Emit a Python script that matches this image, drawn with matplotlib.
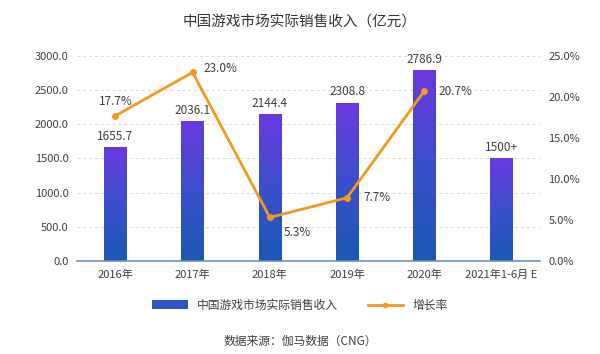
import matplotlib as mpl

mpl.use("Agg")

import matplotlib.pyplot as plt
import numpy as np
from matplotlib.colors import LinearSegmentedColormap
from matplotlib.lines import Line2D
from matplotlib.patches import Patch

plt.rcParams["font.family"] = ["Noto Sans CJK SC", "DejaVu Sans"]

categories = ["2016年", "2017年", "2018年", "2019年", "2020年", "2021年1-6月 E"]
revenue = [1655.7, 2036.1, 2144.4, 2308.8, 2786.9, 1500.0]
revenue_labels = ["1655.7", "2036.1", "2144.4", "2308.8", "2786.9", "1500+"]
growth = [17.7, 23.0, 5.3, 7.7, 20.7]
growth_labels = ["17.7%", "23.0%", "5.3%", "7.7%", "20.7%"]

TEXT = "#404040"
ORANGE = "#F39A1E"
bar_cmap = LinearSegmentedColormap.from_list("bar", ["#1A58B4", "#3A4FCB", "#6A38DE"])

fig = plt.figure(figsize=(6.0, 3.54), dpi=100)
ax = fig.add_axes([0.128, 0.263, 0.772, 0.579])
ax2 = ax.twinx()

x = np.arange(len(categories))
width = 0.29

# gradient bars: each bar blue at the base, purple at the top
grad = np.linspace(0, 1, 256).reshape(-1, 1)
for xi, v in zip(x, revenue):
    ax.imshow(grad, extent=[xi - width / 2, xi + width / 2, 0, v], origin="lower",
              aspect="auto", cmap=bar_cmap, vmin=0, vmax=1, zorder=2)
ax.set_xlim(-0.5, len(categories) - 0.5)
ax.set_ylim(0, 3000)

for xi, v, lab in zip(x, revenue, revenue_labels):
    ax.text(xi, v + 70, lab, ha="center", va="bottom", fontsize=8.5, color=TEXT, zorder=5)

ax.set_yticks(np.arange(0, 3001, 500))
ax.set_yticklabels([f"{v:.1f}" for v in np.arange(0, 3001, 500)])
ax.yaxis.grid(True, linestyle=(0, (3, 3)), color="#D9D9D9", linewidth=0.7)
ax.set_axisbelow(True)
ax.set_xticks(x)
ax.set_xticklabels(categories)
for s in ["top", "right", "left"]:
    ax.spines[s].set_visible(False)
ax.spines["bottom"].set_color("#6A93B8")
ax.spines["bottom"].set_linewidth(1.2)
ax.tick_params(axis="both", length=0, labelsize=8, colors=TEXT, pad=6)

ax2.set_ylim(0, 25)
ax2.set_yticks(np.arange(0, 26, 5))
ax2.set_yticklabels([f"{v:.1f}%" for v in np.arange(0, 26, 5)])
ax2.tick_params(axis="y", length=0, labelsize=8, colors=TEXT, pad=6)
for s in ax2.spines.values():
    s.set_visible(False)
ax2.plot(x[:len(growth)], growth, color=ORANGE, linewidth=2, marker="o", markersize=4, zorder=4)

offsets = [(0, 10, "center"), (8, 3, "left"), (10, -11, "left"), (12, 0, "left"), (10, 0, "left")]
for xi, g, lab, (dx, dy, ha) in zip(x, growth, growth_labels, offsets):
    ax2.annotate(lab, (xi, g), xytext=(dx, dy), textcoords="offset points",
                 ha=ha, va="center", fontsize=8.5, color=TEXT)

fig.text(0.5, 0.937, "中国游戏市场实际销售收入（亿元）", ha="center", va="center",
         fontsize=10.5, color="#333333")

handles = [Patch(facecolor="#2F55C6"),
           Line2D([0], [0], color=ORANGE, linewidth=2, marker="o", markersize=3)]
fig.legend(handles, ["中国游戏市场实际销售收入", "增长率"], loc="center",
           bbox_to_anchor=(0.5, 0.138), ncol=2, frameon=False, fontsize=8.5,
           handlelength=3, columnspacing=2.5, labelcolor=TEXT)

fig.text(0.5, 0.035, "数据来源：伽马数据（CNG）", ha="center", va="center",
         fontsize=8.5, color=TEXT)

fig.savefig("out.png", dpi=100)
